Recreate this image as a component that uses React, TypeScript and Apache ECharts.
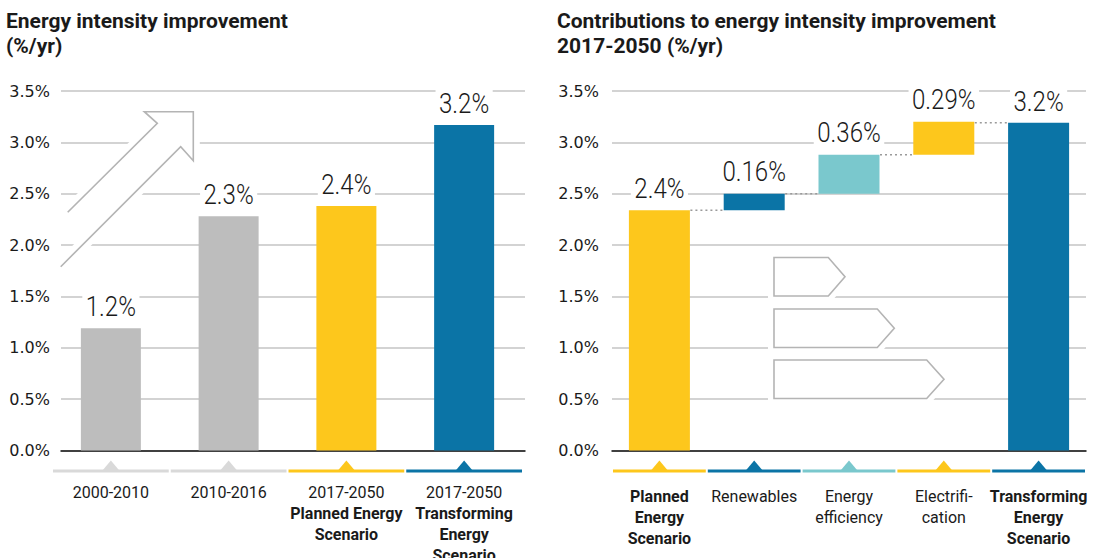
import React, { useEffect, useRef } from "react";
import * as echarts from "echarts";

// ---------- data ----------
const leftCategories = [
  "2000-2010",
  "2010-2016",
  "2017-2050\nPlanned Energy\nScenario",
  "2017-2050\nTransforming\nEnergy\nScenario",
];
const leftValues = [1.19, 2.28, 2.38, 3.17];
const leftLabels = ["1.2%", "2.3%", "2.4%", "3.2%"];
const leftColors = ["#bdbdbd", "#bdbdbd", "#fdc71c", "#0b74a6"];
const leftStripColors = ["#d9d9d9", "#d9d9d9", "#fdc71c", "#0b74a6"];

const rightCategories = [
  "Planned\nEnergy\nScenario",
  "Renewables",
  "Energy\nefficiency",
  "Electrifi-\ncation",
  "Transforming\nEnergy\nScenario",
];
const rightBold = [true, false, false, false, true];
const rightBase = [0, 2.34, 2.5, 2.88, 0];
const rightTop = [2.34, 2.5, 2.88, 3.2, 3.19];
const rightLabels = ["2.4%", "0.16%", "0.36%", "0.29%", "3.2%"];
const rightColors = ["#fdc71c", "#0b74a6", "#7ac8cd", "#fdc71c", "#0b74a6"];
const connectorLevels = [2.34, 2.5, 2.88, 3.19];

const yTicks = { min: 0, max: 3.5, interval: 0.5 };

// ---------- styles ----------
const TXT = "#1a1a1a";
const GRID_COLOR = "#c4c4c4";
const ARROW_COLOR = "#b4b4b4";
const AXIS_FONT = '"DejaVu Sans", sans-serif';
const CAT_FONT = "Roboto, sans-serif";

const rich = {
  n: { fontFamily: CAT_FONT, fontSize: 16, lineHeight: 20.8, color: TXT },
  b: { fontFamily: CAT_FONT, fontSize: 16, lineHeight: 20.8, color: TXT, fontWeight: "bold" },
};

function stripRenderer(colors: string[]) {
  return (params: any, api: any) => {
    const i = api.value(0);
    const c = api.coord([i, 0]);
    const w = api.size([1, 0])[0];
    const color = colors[params.dataIndex];
    return {
      type: "group",
      children: [
        {
          type: "rect",
          shape: { x: c[0] - w / 2 + 1, y: c[1] + 19, width: w - 2, height: 3 },
          style: { fill: color },
        },
        {
          type: "polygon",
          shape: {
            points: [
              [c[0] - 8, c[1] + 19.5],
              [c[0], c[1] + 10],
              [c[0] + 8, c[1] + 19.5],
            ],
          },
          style: { fill: color },
        },
      ],
    };
  };
}

function labelRenderer(labels: string[]) {
  return (params: any, api: any) => {
    const c = api.coord([api.value(0), api.value(1)]);
    return {
      type: "text",
      x: c[0],
      y: c[1] - 8,
      scaleX: 0.86,
      z2: 20,
      style: {
        text: labels[params.dataIndex],
        fontFamily: "Roboto, sans-serif",
        fontWeight: 300,
        fontSize: 28,
        fill: TXT,
        align: "center",
        verticalAlign: "bottom",
        backgroundColor: "#fff",
        padding: [1, 4, 0, 4],
      },
    };
  };
}

const leftArrowLine = [
  [67.7, 212.3],
  [157.3, 123.3],
  [144.3, 111.7],
  [193.3, 111.7],
  [193.3, 160.7],
  [180.7, 146.7],
  [60.7, 266.7],
];
const leftArrowFill = [
  [67.7, 212.3],
  [157.3, 123.3],
  [144.3, 111.7],
  [193.3, 111.7],
  [193.3, 160.7],
  [180.7, 146.7],
  [91.4, 236],
];

function pentagon(x: number, top: number, bottom: number, bodyEnd: number, tip: number) {
  return [
    [x, top],
    [bodyEnd, top],
    [tip, (top + bottom) / 2],
    [bodyEnd, bottom],
    [x, bottom],
  ];
}
const rightArrows = [
  pentagon(774, 257.5, 296, 828.3, 845),
  pentagon(774, 309, 347.5, 877.3, 894.3),
  pentagon(774, 360, 398.5, 926.7, 944),
];

export default function App() {
  const ref = useRef<HTMLDivElement>(null);
  useEffect(() => {
    if (!ref.current) return;
    const chart = echarts.init(ref.current, undefined, { renderer: "svg" });

    const catLabel = (lines: string[], boldFrom: number, allBold: boolean) =>
      lines
        .map((l, k) => (allBold || k >= boldFrom ? `{b|${l}}` : `{n|${l}}`))
        .join("\n");

    const valueAxis = (gridIndex: number, show: boolean, margin: number) => ({
      gridIndex,
      type: "value",
      min: yTicks.min,
      max: yTicks.max,
      interval: yTicks.interval,
      show,
      axisLine: { show: false },
      axisTick: { show: false },
      axisLabel: {
        show,
        margin,
        formatter: (v: number) => v.toFixed(1) + "%",
        fontFamily: AXIS_FONT,
        fontSize: 16,
        color: TXT,
      },
      splitLine: { show, lineStyle: { color: GRID_COLOR, width: 1.5 } },
    });

    const graphics: any[] = [];
    graphics.push({
      type: "polyline",
      z: 10,
      shape: { points: leftArrowLine },
      style: { stroke: "#fff", lineWidth: 13, fill: null, lineJoin: "miter" },
    });
    graphics.push({
      type: "polygon",
      z: 11,
      shape: { points: leftArrowFill },
      style: { fill: "#fff", stroke: null },
    });
    graphics.push({
      type: "polyline",
      z: 12,
      shape: { points: leftArrowLine },
      style: { stroke: ARROW_COLOR, lineWidth: 1.6, fill: null },
    });
    rightArrows.forEach((pts) => {
      graphics.push({
        type: "polygon",
        z: 10,
        shape: { points: pts },
        style: { fill: "#fff", stroke: "#fff", lineWidth: 12, lineJoin: "miter" },
      });
      graphics.push({
        type: "polygon",
        z: 12,
        shape: { points: pts },
        style: { fill: null, stroke: ARROW_COLOR, lineWidth: 1.6 },
      });
    });

    const gridBase = { top: 91, height: 359.5, outerBoundsMode: "none", containLabel: false };

    const option: any = {
      animation: false,
      backgroundColor: "#fff",
      title: [
        {
          left: 6,
          top: 8,
          padding: 0,
          text: "Energy intensity improvement\n(%/yr)",
          textStyle: { fontFamily: CAT_FONT, fontWeight: "bold", fontSize: 21, lineHeight: 25, color: TXT },
        },
        {
          left: 557,
          top: 8,
          padding: 0,
          text: "Contributions to energy intensity improvement\n2017-2050 (%/yr)",
          textStyle: { fontFamily: CAT_FONT, fontWeight: "bold", fontSize: 21, lineHeight: 25, color: TXT },
        },
      ],
      grid: [
        { ...gridBase, left: 61, width: 464 },
        { ...gridBase, left: 52, width: 471 },
        { ...gridBase, left: 612, width: 474 },
      ],
      xAxis: [
        {
          gridIndex: 0,
          type: "value",
          min: 0,
          max: 1,
          axisLine: { show: true, onZero: false, lineStyle: { color: "#111", width: 1.5 } },
          axisTick: { show: false },
          axisLabel: { show: false },
          splitLine: { show: false },
        },
        {
          gridIndex: 1,
          type: "category",
          data: leftCategories,
          axisLine: { show: false },
          axisTick: { show: false },
          axisLabel: {
            margin: 32,
            interval: 0,
            formatter: (v: string) => catLabel(v.split("\n"), 1, false),
            rich,
          },
        },
        {
          gridIndex: 2,
          type: "category",
          data: rightCategories,
          axisLine: { show: true, onZero: false, lineStyle: { color: "#111", width: 1.5 } },
          axisTick: { show: false },
          axisLabel: {
            margin: 36,
            interval: 0,
            formatter: (v: string, i: number) => catLabel(v.split("\n"), 99, rightBold[i]),
            rich,
          },
        },
      ],
      yAxis: [valueAxis(0, true, 11), valueAxis(1, false, 0), valueAxis(2, true, 13)],
      series: [
        {
          type: "bar",
          xAxisIndex: 1,
          yAxisIndex: 1,
          barWidth: 60,
          data: leftValues.map((v, i) => ({ value: v, itemStyle: { color: leftColors[i] } })),
          z: 3,
        },
        {
          type: "custom",
          xAxisIndex: 1,
          yAxisIndex: 1,
          clip: false,
          data: leftValues.map((v, i) => [i, v]),
          renderItem: labelRenderer(leftLabels),
          silent: true,
          z: 6,
        },
        {
          type: "custom",
          xAxisIndex: 1,
          yAxisIndex: 1,
          clip: false,
          data: leftCategories.map((_, i) => [i, 0]),
          renderItem: stripRenderer(leftStripColors),
          silent: true,
        },
        {
          type: "bar",
          xAxisIndex: 2,
          yAxisIndex: 2,
          stack: "w",
          barWidth: 61,
          data: rightBase,
          itemStyle: { color: "rgba(0,0,0,0)" },
          silent: true,
          z: 3,
        },
        {
          type: "bar",
          xAxisIndex: 2,
          yAxisIndex: 2,
          stack: "w",
          barWidth: 61,
          data: rightTop.map((t, i) => ({
            value: +(t - rightBase[i]).toFixed(3),
            itemStyle: { color: rightColors[i] },
          })),
          z: 3,
        },
        {
          type: "custom",
          xAxisIndex: 2,
          yAxisIndex: 2,
          clip: false,
          data: rightTop.map((v, i) => [i, v]),
          renderItem: labelRenderer(rightLabels),
          silent: true,
          z: 6,
        },
        {
          type: "custom",
          xAxisIndex: 2,
          yAxisIndex: 2,
          clip: false,
          data: connectorLevels.map((v, i) => [i, v]),
          renderItem: (params: any, api: any) => {
            const c = api.coord([api.value(0), api.value(1)]);
            const w = api.size([1, 0])[0];
            return {
              type: "line",
              shape: { x1: c[0] + 31, y1: c[1], x2: c[0] + w - 31, y2: c[1] },
              style: { stroke: "#9a9a9a", lineWidth: 1.5, lineDash: [2, 3] },
            };
          },
          silent: true,
          z: 4,
        },
        {
          type: "custom",
          xAxisIndex: 2,
          yAxisIndex: 2,
          clip: false,
          data: rightCategories.map((_, i) => [i, 0]),
          renderItem: stripRenderer(rightColors),
          silent: true,
        },
      ],
      graphic: { elements: graphics },
    };

    chart.setOption(option);
    return () => chart.dispose();
  }, []);

  return (
    <div
      ref={ref}
      style={{ position: "fixed", left: 0, top: 0, width: 1099, height: 558, background: "#fff" }}
    />
  );
}
